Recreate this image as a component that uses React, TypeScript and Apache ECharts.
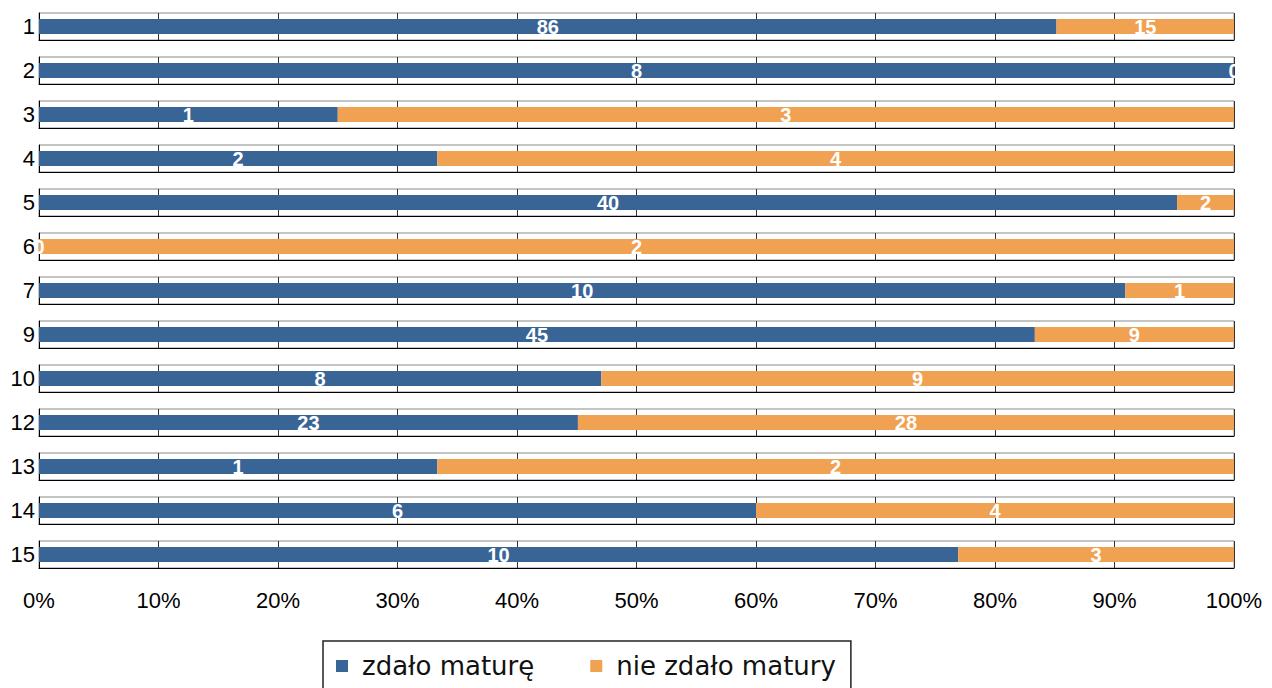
import React, { useEffect, useRef } from "react";
import * as echarts from "echarts";

const categories = ["1", "2", "3", "4", "5", "6", "7", "9", "10", "12", "13", "14", "15"];
const passed = [86, 8, 1, 2, 40, 0, 10, 45, 8, 23, 1, 6, 10];
const failed = [15, 0, 3, 4, 2, 2, 1, 9, 9, 28, 2, 4, 3];
const seriesNames = ["zdało maturę", "nie zdało matury"];
const colors = ["#396596", "#f0a252"];

export default function App() {
  const ref = useRef<HTMLDivElement>(null);
  useEffect(() => {
    if (!ref.current) return;
    const chart = echarts.init(ref.current, undefined, { renderer: "svg" });
    const grids: any[] = [];
    const xAxes: any[] = [];
    const yAxes: any[] = [];
    const series: any[] = [];
    const n = categories.length;
    categories.forEach((cat, i) => {
      const total = passed[i] + failed[i];
      grids.push({
        left: 39,
        width: 1195,
        top: 13 + 44 * i,
        height: 27,
        show: true,
        borderColor: "#8a8a8a",
        borderWidth: 1,
        backgroundColor: "#fff",
      });
      xAxes.push({
        type: "value",
        gridIndex: i,
        min: 0,
        max: 100,
        interval: 10,
        axisLine: { show: true, lineStyle: { color: "#000", width: 1 } },
        axisTick: { show: false },
        splitLine: { show: true, lineStyle: { color: "#333", width: 1 } },
        axisLabel: {
          show: i === n - 1,
          formatter: "{value}%",
          fontSize: 22,
          color: "#000",
          fontFamily: "Liberation Sans",
          margin: 21,
        },
      });
      yAxes.push({
        type: "category",
        gridIndex: i,
        data: [cat],
        axisLine: { show: true, lineStyle: { color: "#000", width: 1 } },
        axisTick: { show: false },
        axisLabel: {
          fontSize: 22,
          color: "#000",
          fontFamily: "Liberation Sans",
          margin: 4,
        },
      });
      const vals = [passed[i], failed[i]];
      vals.forEach((v, k) => {
        series.push({
          type: "bar",
          name: seriesNames[k],
          xAxisIndex: i,
          yAxisIndex: i,
          stack: "s" + i,
          barWidth: 15,
          itemStyle: { color: colors[k] },
          data: [{ value: (v / total) * 100 }],
          label: {
            show: true,
            position: "inside",
            color: "#fff",
            fontWeight: "bold",
            fontSize: 20,
            fontFamily: "Liberation Sans",
            formatter: () => String(v),
          },
        });
      });
    });
    chart.setOption({
      animation: false,
      backgroundColor: "#fff",
      grid: grids,
      xAxis: xAxes,
      yAxis: yAxes,
      series,
      legend: {
        data: seriesNames,
        left: 323,
        top: 641,
        padding: [12, 15, 14, 13],
        borderColor: "#222",
        borderWidth: 1.5,
        itemGap: 56,
        itemWidth: 12,
        itemHeight: 12,
        icon: "rect",
        selectedMode: false,
        textStyle: {
          fontSize: 26,
          color: "#111",
          fontFamily: "DejaVu Sans",
          padding: [0, 0, 0, 9],
        },
      },
    });
    return () => chart.dispose();
  }, []);
  return (
    <div
      ref={ref}
      style={{ position: "fixed", left: 0, top: 0, width: 1272, height: 688 }}
    />
  );
}
